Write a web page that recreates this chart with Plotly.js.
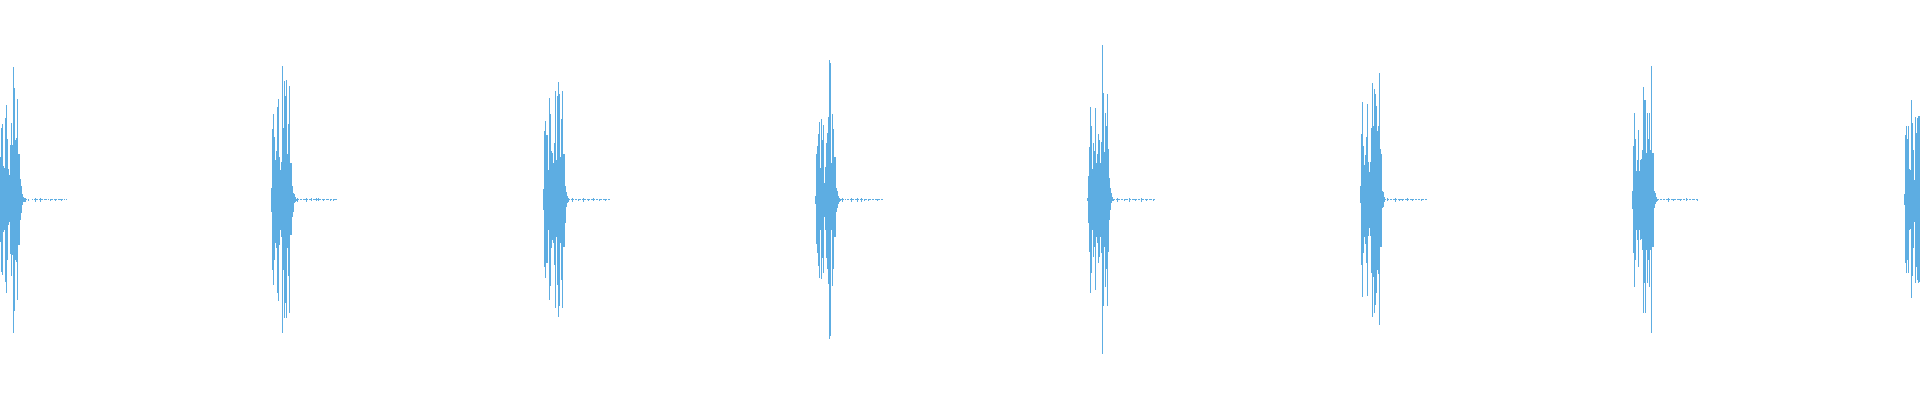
<!DOCTYPE html>
<html>
<head>
<meta charset="utf-8">
<script src="https://cdn.plot.ly/plotly-3.0.1.min.js"></script>
<style>
  html, body { margin: 0; padding: 0; background: #ffffff; }
  #chart { width: 1920px; height: 400px; }
  #chart .bars path { shape-rendering: crispEdges; }
</style>
</head>
<body>
<div id="chart"></div>
<script>
// Onset (time index) of each of the 8 drum hits
const ONSETS = [0, 271, 543, 815, 1087, 1360, 1632, 1904];

// Per-time-step envelope of the waveform: positive peaks and negative troughs (hit body + decay tail)
const PEAK_1 = [43,72,76,34,32,82,95,61,31,25,55,77,55,133,112,60,62,101,46,46,21,14,6,3,
  2,2,0.5,0,1,0,0,0,0.5,0,0.5,1.5,0.5,0.5,0,0.5,1.5,0.5,0.5,0,0.5,0.5,0.5,0,0.5,0,1,0.5,0.5,0,0.5,1,0.5,0,0.5,0.5,0.5,1,0.5,0,0.5,0,0.5];
const TROUGH_1 = [-42,-72,-75,-32,-30,-82,-93,-60,-25,-22,-54,-76,-55,-133,-111,-60,-62,-100,-45,-45,-20,-13,-5,-2,
  -2,-2,0,0,-0.5,0,0,0,0,0,0,-1.5,0,0,0,0,-1.5,0,0,0,0,0,0,0,0,0,-1,0,0,0,0,-1,0,0,0,0,0,-1,0,0,0,0,0];

const PEAK_2 = [12,71,86,63,40,49,93,101,43,30,38,134,72,119,104,120,46,76,114,37,37,14,7,6,3,
  1,2,0.5,0,0.5,0.5,0,0.5,0.5,0.5,1.5,0.5,0,0.5,0.5,1.5,0,1,0.5,0.5,1.5,1,1.5,0.5,0.5,0,0.5,1,0.5,0,0.5,0.5,0.5,0,1,0.5,0,1,0.5,0.5,0.5,0];
const TROUGH_2 = [-12,-70,-85,-60,-43,-48,-93,-101,-45,-30,-37,-133,-70,-118,-103,-118,-48,-76,-113,-35,-35,-17,-12,-3,-2,
  -1,-2,0,0,0,0,0,0,0,0,-1.5,0,0,0,0,-1,0,0,0,0,-1,0,-1,0,0,0,0,-0.5,0,0,0,0,0,0,-1,0,0,-1,0,0,0,0];

const PEAK_3 = [11,69,79,65,65,30,102,86,49,47,37,57,109,40,104,118,106,43,81,109,46,46,14,8,4,
  2,0.5,0,0.5,1.5,0.5,0,0.5,0.5,0,1,0.5,0.5,0,0.5,1.5,0.5,0.5,0,0.5,1,0.5,0,0.5,0.5,1.5,0.5,0,0.5,0.5,0,1,0.5,0.5,0,0.5,0.5,1,0.5,0,0.5,0.5,0];
const TROUGH_3 = [-10,-67,-78,-63,-63,-30,-100,-86,-48,-40,-43,-65,-108,-37,-85,-117,-106,-43,-80,-108,-47,-47,-23,-7,-3,
  -2,0,0,0,-1.5,0,0,0,0,0,-1,0,0,0,0,-1.5,0,0,0,0,-0.5,0,0,0,0,-1,0,0,0,0,0,-1,0,0,0,0,0,-1,0,0,0,0,0];

const PEAK_4 = [4,46,54,66,78,32,81,60,75,17,33,57,67,83,140,137,37,86,71,43,43,12,9,4,2,
  1,0.5,2,0.5,0,0.5,0,0.5,0.5,0,0.5,1.5,0.5,0.5,0,0.5,0.5,1.5,0.5,0,0.5,2,0.5,0,1,0.5,0.5,0,1,0.5,0.5,0,0.5,0.5,0,0.5,0.5,1,0.5,0.5,0,0.5,0.5,0];
const TROUGH_4 = [-4,-44,-53,-66,-78,-30,-79,-58,-73,-17,-30,-58,-69,-84,-139,-136,-30,-86,-69,-37,-37,-12,-8,-4,-2,
  -1,0,-2,0,0,0,0,0,0,0,0,-1.5,0,0,0,0,0,-1.5,0,0,0,-2,0,0,-1,0,0,0,-1,0,0,0,0,0,0,0,0,-1,0,0,0,0,0,0];

const PEAK_5 = [2,24,53,93,74,31,57,49,92,37,46,66,60,37,58,155,107,48,87,74,106,51,22,12,7,3,
  1,0.5,0,0.5,1.5,0.5,0.5,0,0.5,0.5,0,1,0.5,0.5,0.5,0,1.5,0.5,0,0.5,0.5,0.5,1,0.5,0,0.5,0.5,0,1.5,0.5,0.5,0,0.5,1,0.5,0,0.5,0.5,0.5,0,1,0.5,0];
const TROUGH_5 = [-1,-23,-52,-93,-73,-30,-57,-47,-90,-37,-43,-63,-57,-37,-53,-154,-106,-47,-87,-69,-106,-52,-20,-10,-3,-1,
  -1,0,0,0,-1.5,0,0,0,0,0,0,-1,0,0,0,0,-1.5,0,0,0,0,0,-1,0,0,0,0,0,-1.5,0,0,0,0,-1,0,0,0,0,0,0,-1,0,0];

const PEAK_6 = [14,66,98,54,35,45,63,96,38,28,38,72,117,74,111,106,94,69,74,127,51,46,9,8,3,
  0.5,0,1.5,0.5,0,0.5,0.5,0,0.5,0.5,2,0.5,0,0.5,1,0.5,0.5,1,0.5,0,0.5,0.5,1.5,0.5,0,0.5,0.5,1,0.5,0,0.5,0.5,0,0.5,0.5,0,1,0.5,0.5,0,0.5,0.5,0];
const TROUGH_6 = [-3,-65,-97,-53,-37,-44,-63,-96,-36,-28,-36,-73,-117,-77,-113,-105,-93,-70,-74,-125,-47,-47,-8,-7,-2,
  0,0,-1,0,0,0,0,0,0,0,-2,0,0,0,-1,0,0,-0.5,0,0,0,0,-1,0,0,0,0,-1,0,0,0,0,0,0,0,0,-1,0,0,0,0,0,0];

const PEAK_7 = [9,54,87,61,29,40,70,29,40,41,50,113,100,100,47,87,61,87,50,134,47,47,9,7,3,
  1,0.5,0,0.5,0.5,0,0.5,0.5,0,0.5,0.5,1.5,0.5,0,0.5,0.5,1,0.5,0.5,0,0.5,0.5,0.5,1,0.5,0,0.5,0.5,0,1.5,0.5,0,0.5,0.5,0,0.5,0.5,0.5,0,0.5,1];
const TROUGH_7 = [-9,-53,-87,-60,-30,-40,-67,-30,-40,-39,-50,-113,-83,-113,-50,-83,-60,-87,-50,-133,-47,-47,-8,-4,-2,
  -1,0,0,0,0,0,0,0,0,0,0,-1.5,0,0,0,0,-1,0,0,0,0,0,0,-1,0,0,0,0,0,-1,0,0,0,0,0,0,0,0,0,0,-1];

const PEAK_8 = [6,65,74,61,74,31,30,100,77,50,20,83,67,82,84,84];
const TROUGH_8 = [-5,-63,-73,-60,-73,-30,-29,-98,-76,-48,-22,-83,-67,-80,-83,-82];

const PEAKS = [PEAK_1, PEAK_2, PEAK_3, PEAK_4, PEAK_5, PEAK_6, PEAK_7, PEAK_8];
const TROUGHS = [TROUGH_1, TROUGH_2, TROUGH_3, TROUGH_4, TROUGH_5, TROUGH_6, TROUGH_7, TROUGH_8];

const COLOR = '#5DADE2';

const t = [], yMax = [], yMin = [];
ONSETS.forEach((t0, i) => {
  PEAKS[i].forEach((v, k) => {
    t.push(t0 + k);
    yMax.push(v);
    yMin.push(TROUGHS[i][k] !== undefined ? TROUGHS[i][k] : 0);
  });
});

const traces = [
  { type: 'bar', x: t, y: yMax, marker: { color: COLOR, line: { width: 0 } }, hoverinfo: 'skip', showlegend: false },
  { type: 'bar', x: t, y: yMin, marker: { color: COLOR, line: { width: 0 } }, hoverinfo: 'skip', showlegend: false }
];

const layout = {
  width: 1920,
  height: 400,
  margin: { l: 0, r: 0, t: 0, b: 0, pad: 0 },
  paper_bgcolor: '#ffffff',
  plot_bgcolor: '#ffffff',
  barmode: 'overlay',
  bargap: 0,
  showlegend: false,
  xaxis: { range: [-0.5, 1919.5], visible: false, fixedrange: true },
  yaxis: { range: [-200, 200], visible: false, fixedrange: true }
};

Plotly.newPlot('chart', traces, layout, { displayModeBar: false, responsive: false });
</script>
</body>
</html>
